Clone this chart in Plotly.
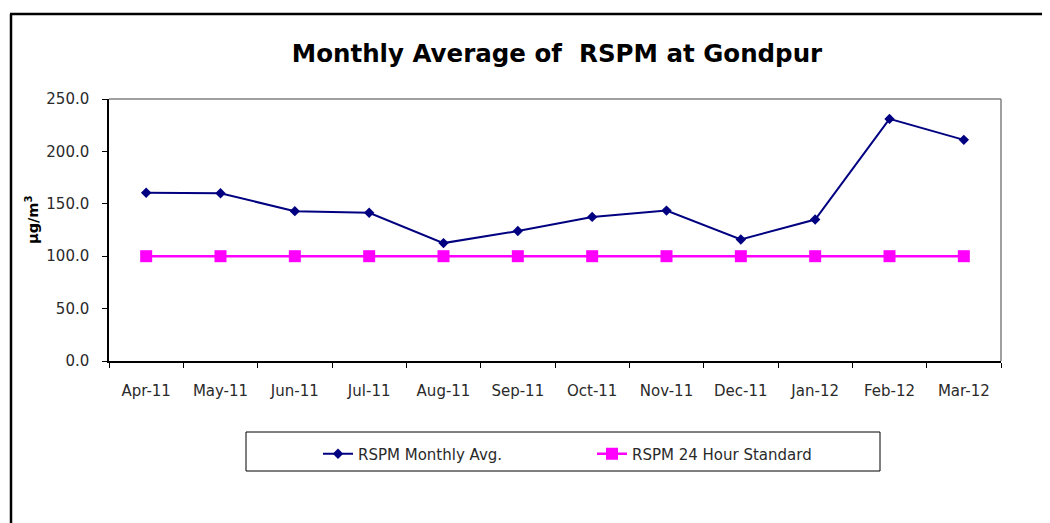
import plotly.graph_objects as go

months = ["Apr-11", "May-11", "Jun-11", "Jul-11", "Aug-11", "Sep-11",
          "Oct-11", "Nov-11", "Dec-11", "Jan-12", "Feb-12", "Mar-12"]
rspm_avg = [160.5, 160.0, 143.0, 141.5, 112.5, 124.0, 137.5, 143.5, 116.0, 135.0, 231.0, 211.0]
rspm_std = [100, 100, 100, 100, 100, 100, 100, 100, 100, 100, 100, 100]
y_ticks = [0, 50, 100, 150, 200, 250]

W, H = 1050, 523
OX, OY = 8, 8  # page body margin offset of the rendered figure
L, R, T, B = 109 - OX, 1001 - OX, 99 - OY, 361 - OY  # plot area in figure pixels


def px(x):
    x = x - OX
    return (x - L) / (R - L)


def py(y):
    y = y - OY
    return (B - y) / (B - T)


FONT = "DejaVu Sans, Verdana, sans-serif"
TXT = "#2a2a2a"

fig = go.Figure()
fig.add_trace(go.Scatter(
    x=months, y=rspm_avg, name="RSPM Monthly Avg.", mode="lines+markers",
    line=dict(color="#000080", width=2),
    marker=dict(symbol="diamond", size=8, color="#000080"),
    legend="legend",
))
fig.add_trace(go.Scatter(
    x=months, y=rspm_std, name="RSPM 24 Hour Standard", mode="lines+markers",
    line=dict(color="#FF00FF", width=2.5),
    marker=dict(symbol="square", size=12, color="#FF00FF"),
    legend="legend2",
))

shapes = [
    # outer chart border (left + top)
    dict(type="line", xref="paper", yref="paper", x0=px(11), x1=px(11), y0=py(14), y1=py(540),
         line=dict(color="black", width=2.5)),
    dict(type="line", xref="paper", yref="paper", x0=px(10), x1=px(1065), y0=py(14), y1=py(14),
         line=dict(color="black", width=2.5)),
    # plot area top/right border (gray)
    dict(type="line", xref="paper", yref="paper", x0=0, x1=1, y0=1, y1=1,
         line=dict(color="#808080", width=1.5)),
    dict(type="line", xref="paper", yref="paper", x0=1, x1=1, y0=0, y1=1,
         line=dict(color="#808080", width=1.5)),
    # legend box
    dict(type="rect", xref="paper", yref="paper", x0=px(246), x1=px(880), y0=py(432), y1=py(471),
         line=dict(color="black", width=1), fillcolor="rgba(0,0,0,0)"),
]

fig.update_layout(
    width=W, height=H,
    margin=dict(l=L, r=W - R, t=T, b=H - B, pad=0),
    paper_bgcolor="white", plot_bgcolor="white",
    font=dict(family=FONT, size=15, color=TXT),
    title=dict(text="<b>Monthly Average of  RSPM at Gondpur</b>", xref="container",
               x=(557 - OX) / W, xanchor="center",
               yref="container", y=1 - (53 - OY) / H, yanchor="middle",
               font=dict(family=FONT, size=24.5, color="black")),
    xaxis=dict(
        type="category", range=[-0.5, 11.5], tickson="boundaries",
        showline=True, linecolor="black", linewidth=1.5,
        ticks="outside", ticklen=5, tickcolor="black", tickwidth=1,
        showgrid=False, zeroline=False, ticklabelstandoff=15,
        tickfont=dict(family=FONT, size=15, color=TXT),
    ),
    yaxis=dict(
        range=[0, 250], tickvals=y_ticks, tickformat=".1f",
        showline=True, linecolor="black", linewidth=1.5,
        ticks="outside", ticklen=5, tickcolor="black", tickwidth=1,
        showgrid=False, zeroline=False, ticklabelstandoff=10,
        tickfont=dict(family=FONT, size=15, color=TXT),
    ),
    showlegend=True,
    legend=dict(orientation="h", x=px(318), xanchor="left", y=py(454), yanchor="middle",
                bgcolor="rgba(0,0,0,0)", font=dict(family=FONT, size=15, color=TXT)),
    legend2=dict(orientation="h", x=px(592), xanchor="left", y=py(454), yanchor="middle",
                 bgcolor="rgba(0,0,0,0)", font=dict(family=FONT, size=15, color=TXT)),
    shapes=shapes,
    annotations=[dict(text="<b>µg/m<sup>3</sup></b>", textangle=-90, xref="paper", yref="paper",
                      x=px(32), y=py(220), showarrow=False, xanchor="center", yanchor="middle",
                      font=dict(family=FONT, size=14.5, color="black"))],
)

fig.write_html("out.html")
